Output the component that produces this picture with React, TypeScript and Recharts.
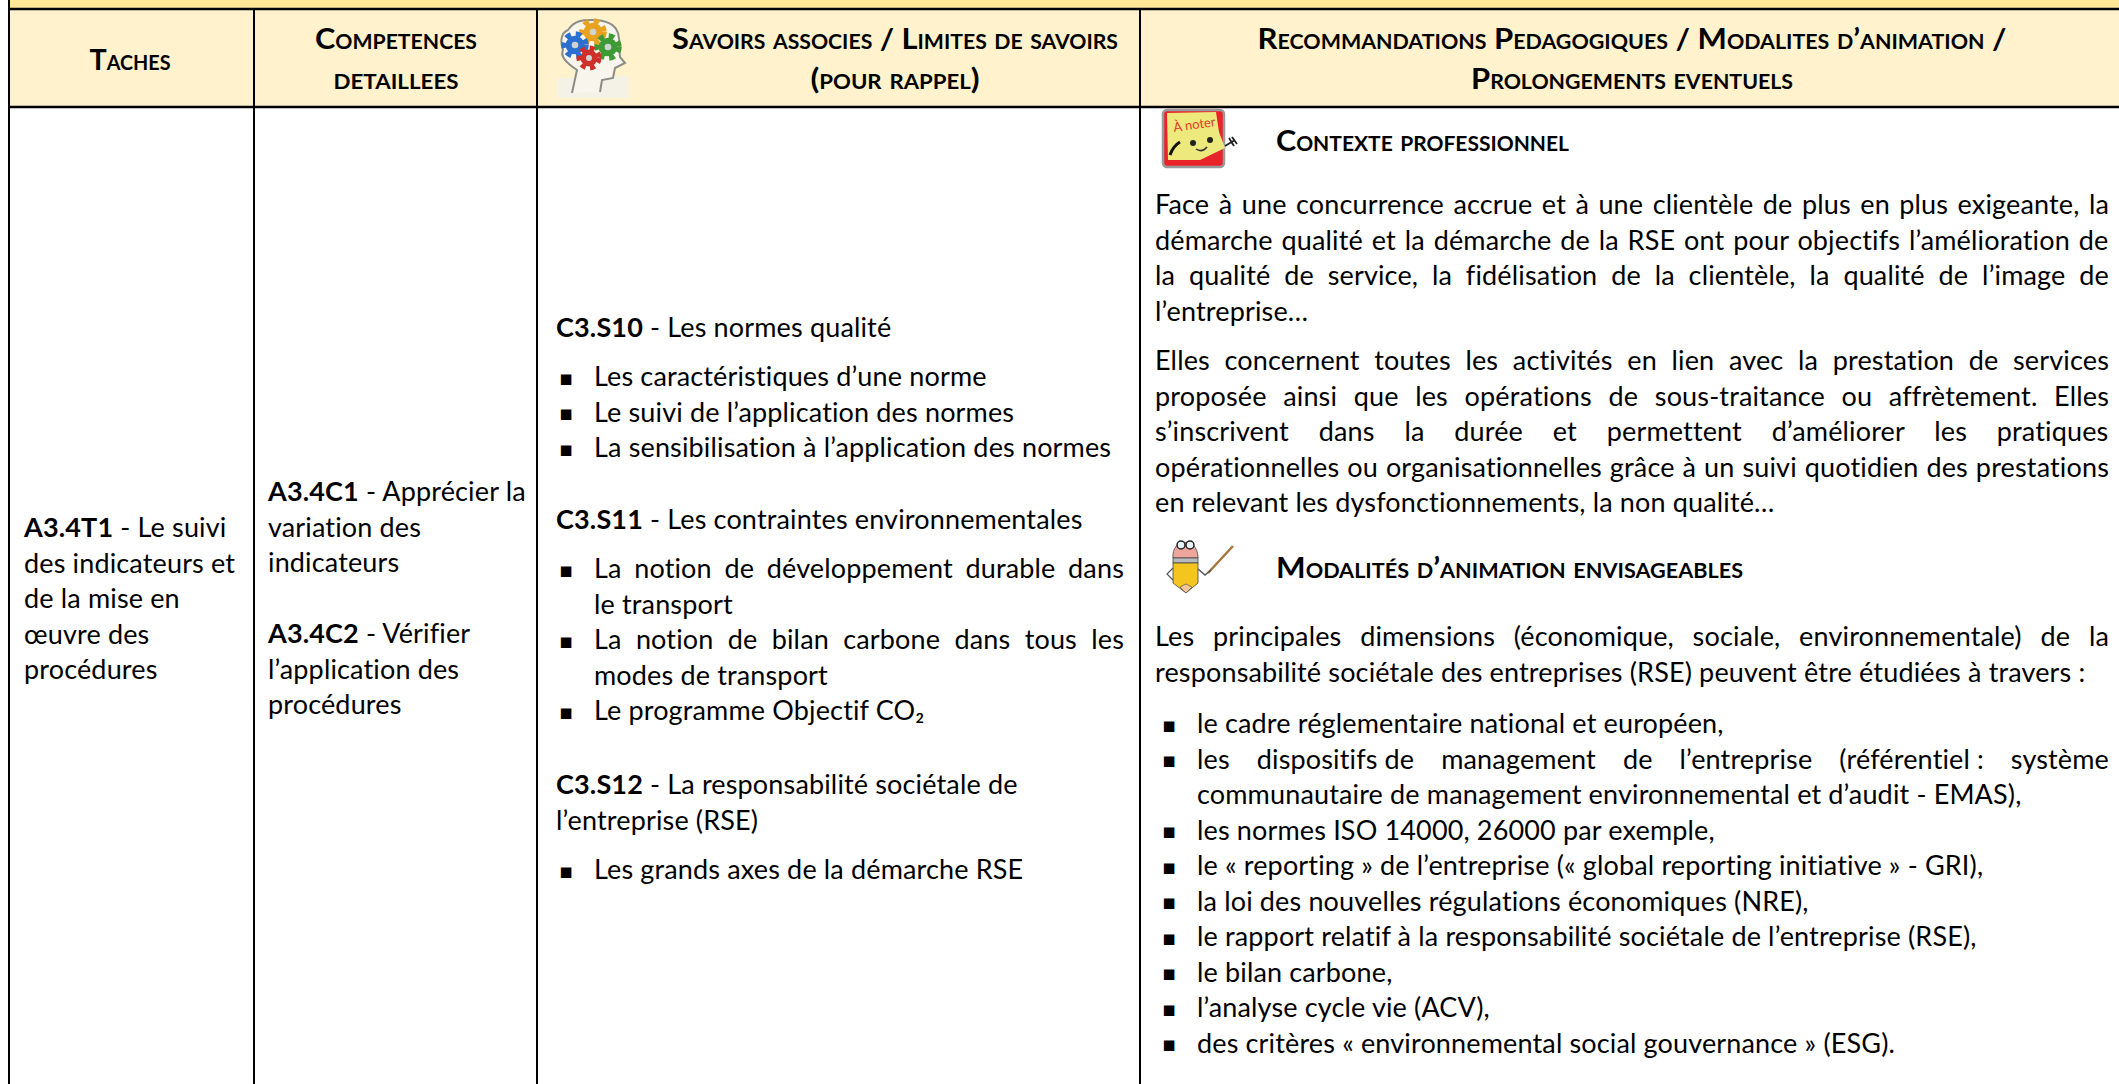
import { ComposedChart, XAxis, YAxis, Scatter, ReferenceArea, ReferenceLine } from "recharts";

const W = 2119;
const H = 1084;
const FONT = "Lato";
const BODY_SIZE = 27;
const TRACK = 0.15; // non-zero tracking also turns Lato's ligatures off
const LEAD = 35.55;

// table text, cell by cell
const headerTaches = ["Taches"];
const headerCompetences = ["Competences", "detaillees"];
const headerSavoirs = ["Savoirs associes / Limites de savoirs", "(pour rappel)"];
const headerReco = ["Recommandations Pedagogiques / Modalites d’animation /", "Prolongements eventuels"];
const headingContexte = ["Contexte professionnel"];
const headingModalites = ["Modalités d’animation envisageables"];

const taches = ["**A3.4T1** - Le suivi", "des indicateurs et", "de la mise en", "œuvre des", "procédures"];
const competences1 = ["**A3.4C1** - Apprécier la", "variation des", "indicateurs"];
const competences2 = ["**A3.4C2** - Vérifier", "l’application des", "procédures"];

const savoirsS10 = ["**C3.S10** - Les normes qualité"];
const savoirsS10Items = [
  ["Les caractéristiques d’une norme"],
  ["Le suivi de l’application des normes"],
  ["La sensibilisation à l’application des normes"],
];
const savoirsS11 = ["**C3.S11** - Les contraintes environnementales"];
const savoirsS11Items = [
  ["La notion de développement durable dans", "le transport"],
  ["La notion de bilan carbone dans tous les", "modes de transport"],
  ["Le programme Objectif CO₂"],
];
const savoirsS12 = ["**C3.S12** - La responsabilité sociétale de", "l’entreprise (RSE)"];
const savoirsS12Items = [["Les grands axes de la démarche RSE"]];

const contexte1 = [
  "Face à une concurrence accrue et à une clientèle de plus en plus exigeante, la",
  "démarche qualité et la démarche de la RSE ont pour objectifs l’amélioration de",
  "la qualité de service, la fidélisation de la clientèle, la qualité de l’image de",
  "l’entreprise…",
];
const contexte2 = [
  "Elles concernent toutes les activités en lien avec la prestation de services",
  "proposée ainsi que les opérations de sous-traitance ou affrètement. Elles",
  "s’inscrivent dans la durée et permettent d’améliorer les pratiques",
  "opérationnelles ou organisationnelles grâce à un suivi quotidien des prestations",
  "en relevant les dysfonctionnements, la non qualité…",
];
const modalites = [
  "Les principales dimensions (économique, sociale, environnementale) de la",
  "responsabilité sociétale des entreprises (RSE) peuvent être étudiées à travers :",
];
const modalitesItems = [
  ["le cadre réglementaire national et européen,"],
  ["les dispositifs\u202Fde management de l’entreprise (référentiel\u202F: système", "communautaire de management environnemental et d’audit - EMAS),"],
  ["les normes ISO 14000, 26000 par exemple,"],
  ["le « reporting » de l’entreprise (« global reporting initiative » - GRI),"],
  ["la loi des nouvelles régulations économiques (NRE),"],
  ["le rapport relatif à la responsabilité sociétale de l’entreprise (RSE),"],
  ["le bilan carbone,"],
  ["l’analyse cycle vie (ACV),"],
  ["des critères « environnemental social gouvernance » (ESG)."],
];

const columnRules = [9, 254, 537, 1140];
const headerRules = [9, 107];
const iconSpots = [
  { x: 593, y: 58, icon: "head" },
  { x: 1199, y: 138, icon: "note" },
  { x: 1199, y: 566, icon: "pencil" },
];

type Mark = { x: number; y: number; text: string; kind: string; anchor?: string; width?: number; bullet?: number };

const marks: Mark[] = [];

function centred(lines: string[], x: number, y: number, width?: number[]) {
  lines.forEach((text, i) =>
    marks.push({ x, y: y + i * 40, text, kind: "head", anchor: "middle", width: width?.[i] })
  );
}
function plain(lines: string[], x: number, y: number) {
  lines.forEach((text, i) => marks.push({ x, y: y + i * LEAD, text, kind: "body" }));
}
function para(lines: string[], x: number, y: number, right: number) {
  lines.forEach((text, i) =>
    marks.push({ x, y: y + i * LEAD, text, kind: "body", width: i < lines.length - 1 ? right - x : undefined })
  );
}
function items(list: string[][], bulletX: number, x: number, y: number, right: number) {
  let row = 0;
  list.forEach((lines) => {
    lines.forEach((text, i) => {
      marks.push({
        x,
        y: y + row * LEAD,
        text,
        kind: "body",
        width: i < lines.length - 1 ? right - x : undefined,
        bullet: i === 0 ? bulletX : undefined,
      });
      row += 1;
    });
  });
}

centred(headerTaches, 130, 69.5, [81]);
centred(headerCompetences, 396, 49, [162, 125]);
centred(headerSavoirs, 895, 49, [446, 169]);
centred(headerReco, 1632, 49, [749, 322]);
marks.push({ x: 1276, y: 150.5, text: headingContexte[0], kind: "heading", width: 293 });
marks.push({ x: 1276, y: 577.5, text: headingModalites[0], kind: "heading", width: 467 });

plain(taches, 24, 537);
plain(competences1, 268, 501);
plain(competences2, 268, 643);

plain(savoirsS10, 556, 337);
items(savoirsS10Items, 559, 594, 386, 1124);
plain(savoirsS11, 556, 529);
items(savoirsS11Items, 559, 594, 578, 1124);
plain(savoirsS12, 556, 794);
items(savoirsS12Items, 559, 594, 879, 1124);

para(contexte1, 1155, 214, 2109);
para(contexte2, 1155, 370, 2109);
para(modalites, 1155, 646, 2109);
items(modalitesItems, 1162, 1197, 733, 2109);

let ctx: any = null;
function textWidth(text: string, bold: boolean) {
  if (!ctx) ctx = document.createElement("canvas").getContext("2d");
  ctx.font = `${bold ? "bold " : ""}${BODY_SIZE}px ${FONT}`;
  ctx.letterSpacing = `${TRACK}px`;
  return ctx.measureText(text).width;
}

function TextMark(props: any) {
  const { cx, cy, payload } = props;
  const m: Mark = payload;
  if (m.kind !== "body") {
    return (
      <text
        x={cx}
        y={cy}
        textAnchor={m.anchor ?? "start"}
        fontFamily={FONT}
        fontWeight="bold"
        fontSize={29}
        fill="#000"
        textLength={m.width}
        lengthAdjust="spacingAndGlyphs"
        style={{ fontVariant: "small-caps" }}
      >
        {m.text}
      </text>
    );
  }
  const parts = m.text.split("**");
  let spacing = 0;
  if (m.width) {
    const total = parts.reduce((sum, p, i) => sum + textWidth(p, i % 2 === 1), 0);
    spacing = (m.width - total) / (m.text.split(" ").length - 1);
  }
  return (
    <g>
      {m.bullet !== undefined && (
        <text x={cx - (m.x - m.bullet)} y={cy - 1.5} fontFamily="DejaVu Sans" fontSize={21} fill="#000">
          ▪
        </text>
      )}
      <text
        x={cx}
        y={cy}
        fontFamily={FONT}
        fontSize={BODY_SIZE}
        fill="#000"
        style={{ wordSpacing: spacing, letterSpacing: TRACK }}
      >
        {parts.map((p, i) => (
          <tspan key={i} fontWeight={i % 2 === 1 ? "bold" : "normal"}>
            {p}
          </tspan>
        ))}
      </text>
    </g>
  );
}

function Gear({ x, y, r, fill }: { x: number; y: number; r: number; fill: string }) {
  return (
    <g>
      <circle cx={x} cy={y} r={r} fill="none" stroke={fill} strokeWidth={r * 0.5} strokeDasharray={`${r * 0.5} ${r * 0.45}`} />
      <circle cx={x} cy={y} r={r * 0.85} fill={fill} />
      <circle cx={x} cy={y} r={r * 0.3} fill="#cfd3d3" />
    </g>
  );
}

function IconMark(props: any) {
  const { cx, cy, payload } = props;
  if (payload.icon === "head") {
    return (
      <g transform={`translate(${cx},${cy})`}>
        <path d="M-36 20 L36 18 L36 40 L-36 40 Z" fill="#f4f1e6" />
        <path
          d="M-21 35 L-16 12 C-28 4 -33 -2 -30 -8 C-34 -20 -30 -26 -25 -28 C-18 -38 -10 -38 -1 -38 C12 -38 22 -34 25 -25 C28 -14 26 -8 27 -1 L32 5 L22 10 L20 20 L9 22 L7 34"
          fill="#f8f6ec"
          stroke="#8d8d86"
          strokeWidth={2}
        />
        <Gear x={0} y={-26} r={11} fill="#e8a21e" />
        <Gear x={-18} y={-13} r={11} fill="#2b6fd0" />
        <Gear x={15} y={-11} r={11} fill="#3f9a35" />
        <Gear x={-4} y={0} r={10} fill="#cf2f2b" />
      </g>
    );
  }
  if (payload.icon === "note") {
    return (
      <g transform={`translate(${cx},${cy})`}>
        <rect x={-36} y={-28} width={61} height={57} rx={4} fill="#e8242a" stroke="#9a9a9a" strokeWidth={2.5} />
        <path d="M-32 -25 L17 -26 L20 -6 L26 10 L1 22 L-31 22 Z" fill="#eee97c" />
        <text x={-25} y={-6} fontFamily={FONT} fontSize={13} fill="#e23a2a" transform="rotate(-8 -25 -6)">
          À noter
        </text>
        <circle cx={-6} cy={5} r={3} fill="#222" />
        <circle cx={11} cy={2} r={3} fill="#222" />
        <path d="M-3 11 Q3 15 8 9" fill="none" stroke="#333" strokeWidth={1.5} />
        <path d="M-29 17 Q-26 8 -19 4" fill="none" stroke="#111" strokeWidth={3} />
        <path d="M26 8 L36 2 M30 0 L35 8 M33 -1 L38 6" stroke="#222" strokeWidth={1.8} />
      </g>
    );
  }
  return (
    <g transform={`translate(${cx},${cy})`}>
      <path d="M34 -20 L9 7" stroke="#a5773f" strokeWidth={2.5} />
      <path d="M-26 -8 C-28 -28 -1 -30 -1 -8 Z" fill="#eea69c" stroke="#444" strokeWidth={0.8} />
      <circle cx={-18} cy={-21} r={4} fill="#e8f4fb" stroke="#222" strokeWidth={1.5} />
      <circle cx={-9} cy={-21} r={4} fill="#e8f4fb" stroke="#222" strokeWidth={1.5} />
      <rect x={-26} y={-8} width={25} height={5} fill="#b6babb" stroke="#444" strokeWidth={0.8} />
      <path d="M-26 -3 L-1 -3 L-1 17 L-13 27 L-26 17 Z" fill="#f5c51f" stroke="#444" strokeWidth={0.8} />
      <path d="M-19 21 L-13 27 L-7 21 L-13 18 Z" fill="#f0c69a" stroke="#444" strokeWidth={0.6} />
      <path d="M-1 3 L6 9 L12 4" fill="none" stroke="#555" strokeWidth={1.5} />
      <path d="M-26 2 L-32 8 L-26 14" fill="none" stroke="#555" strokeWidth={1.2} />
    </g>
  );
}

export default function App() {
  const tableLeft = columnRules[0];
  return (
    <div style={{ position: "absolute", left: 0, top: 0, width: W, height: H, background: "#fff" }}>
      <ComposedChart width={W} height={H} margin={{ top: 0, right: 0, bottom: 0, left: 0 }}>
        <XAxis type="number" dataKey="x" domain={[0, W]} hide />
        <YAxis type="number" dataKey="y" domain={[0, H]} reversed hide />
        <ReferenceArea x1={tableLeft} x2={W} y1={0} y2={headerRules[0]} fill="#FFE699" fillOpacity={1} stroke="none" />
        <ReferenceArea x1={tableLeft} x2={W} y1={headerRules[0]} y2={headerRules[1]} fill="#FFF2CC" fillOpacity={1} stroke="none" />
        {headerRules.map((y) => (
          <ReferenceLine
            key={y}
            segment={[
              { x: tableLeft, y },
              { x: W, y },
            ]}
            stroke="#000"
            strokeWidth={2.5}
          />
        ))}
        {columnRules.map((x) => (
          <ReferenceLine
            key={x}
            segment={[
              { x, y: x === tableLeft ? 0 : headerRules[0] },
              { x, y: H },
            ]}
            stroke="#000"
            strokeWidth={2}
          />
        ))}
        <Scatter data={iconSpots} isAnimationActive={false} shape={(p: any) => <IconMark {...p} />} />
        <Scatter data={marks} isAnimationActive={false} shape={(p: any) => <TextMark {...p} />} />
      </ComposedChart>
    </div>
  );
}
